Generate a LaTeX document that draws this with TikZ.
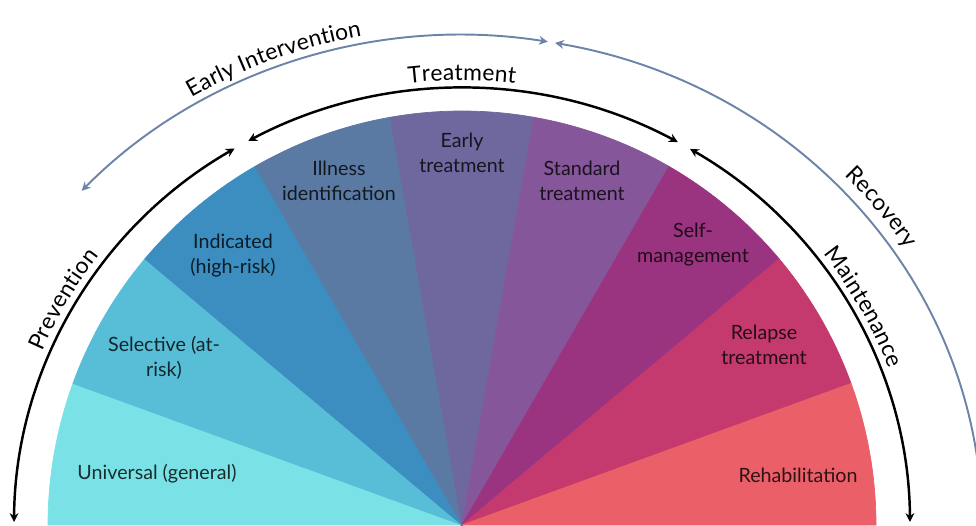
\documentclass[tikz,border=0pt]{standalone}
\usepackage{fontspec}
\setmainfont{Lato}
\usetikzlibrary{arrows.meta,decorations.text}

% segment colours, left to right
\definecolor{cuniv}{HTML}{7AE2E6}
\definecolor{csel}{HTML}{58BED7}
\definecolor{cind}{HTML}{3C8EC0}
\definecolor{cill}{HTML}{5A7AA4}
\definecolor{cearly}{HTML}{6E689E}
\definecolor{cstd}{HTML}{86569A}
\definecolor{cself}{HTML}{9B3480}
\definecolor{crelapse}{HTML}{C43A6E}
\definecolor{crehab}{HTML}{EA5F68}
\definecolor{phaseblue}{HTML}{6C84A8}

\newcommand\arcfont{\fontsize{13}{15}\selectfont}

\tikzset{
  seg/.style={align=center, font=\fontsize{11.2}{14.2}\selectfont,
    text=black, text opacity=0.8},
  stagearc/.style={line width=1.4pt},
  phasearc/.style={line width=1.1pt, phaseblue},
  arclabel/.style={decorate, decoration={text along path,
    text={|\arcfont|#1}, text align=center, raise=4.5pt}}
}

\begin{document}
\begin{tikzpicture}[x=0.02cm,y=0.02cm,>={Stealth[length=5pt,width=5pt]}]
  \useasboundingbox (0,0) rectangle (976,525);
  \clip (0,0) rectangle (976,525);
  \coordinate (c) at (462,0);

  % nine segments of 20 degrees
  \foreach \col [count=\i from 0, evaluate=\i as \a using 180-20*\i] in
    {cuniv,csel,cind,cill,cearly,cstd,cself,crelapse,crehab}
    \filldraw[\col, line width=0.4pt] (c) -- ++(\a:414)
      arc[start angle=\a, delta angle=-20, radius=414] -- cycle;

  \node[seg] (univ)    at (157,51)    {Universal (general)};
  \node[seg] (sel)     at (164,167)   {Selective (at-\\risk)};
  \node[seg] (ind)     at (233,269)   {Indicated\\(high-risk)};
  \node[seg] (ill)     at (339,344)   {Illness\\identification};
  \node[seg] (early)   at (462,372)   {Early\\treatment};
  \node[seg] (std)     at (582,344)   {Standard\\treatment};
  \node[seg] (self)    at (693,280)   {Self-\\management};
  \node[seg] (relapse) at (764,180)   {Relapse\\treatment};
  \node[seg] (rehab)   at (798,50)    {Rehabilitation};

  \begin{scope}[shift={(c)}]
    % inner ring: stages
    \draw[stagearc,<->] (179.6:448 and 437)
      arc[start angle=179.6, end angle=120.5, x radius=448, y radius=437];
    \draw[stagearc,<->] (118.5:448 and 437)
      arc[start angle=118.5, end angle=61.2, x radius=448, y radius=437];
    \draw[stagearc,<->] (59.4:448 and 437)
      arc[start angle=59.4, end angle=0.4, x radius=448, y radius=437];
    \path[arclabel=Prevention] (170:448 and 437)
      arc[start angle=170, end angle=130, x radius=448, y radius=437];
    \path[arclabel=Treatment] (110:448 and 437)
      arc[start angle=110, end angle=70, x radius=448, y radius=437];
    \path[arclabel=Maintenance] (49:448 and 437)
      arc[start angle=49, end angle=9, x radius=448, y radius=437];

    % outer ring: phases
    \draw[phasearc,<->] (137:520 and 490)
      arc[start angle=137, end angle=80.5, x radius=520, y radius=490];
    \draw[phasearc,<-] (79.7:520 and 490)
      arc[start angle=79.7, end angle=0, x radius=520, y radius=490];
    \path[arclabel=Early Intervention] (131:520 and 490)
      arc[start angle=131, end angle=91, x radius=520, y radius=490];
    \path[arclabel=Recovery, decoration={raise=7pt}] (58.5:520 and 490)
      arc[start angle=58.5, end angle=18.5, x radius=520, y radius=490];
  \end{scope}
\end{tikzpicture}
\end{document}
